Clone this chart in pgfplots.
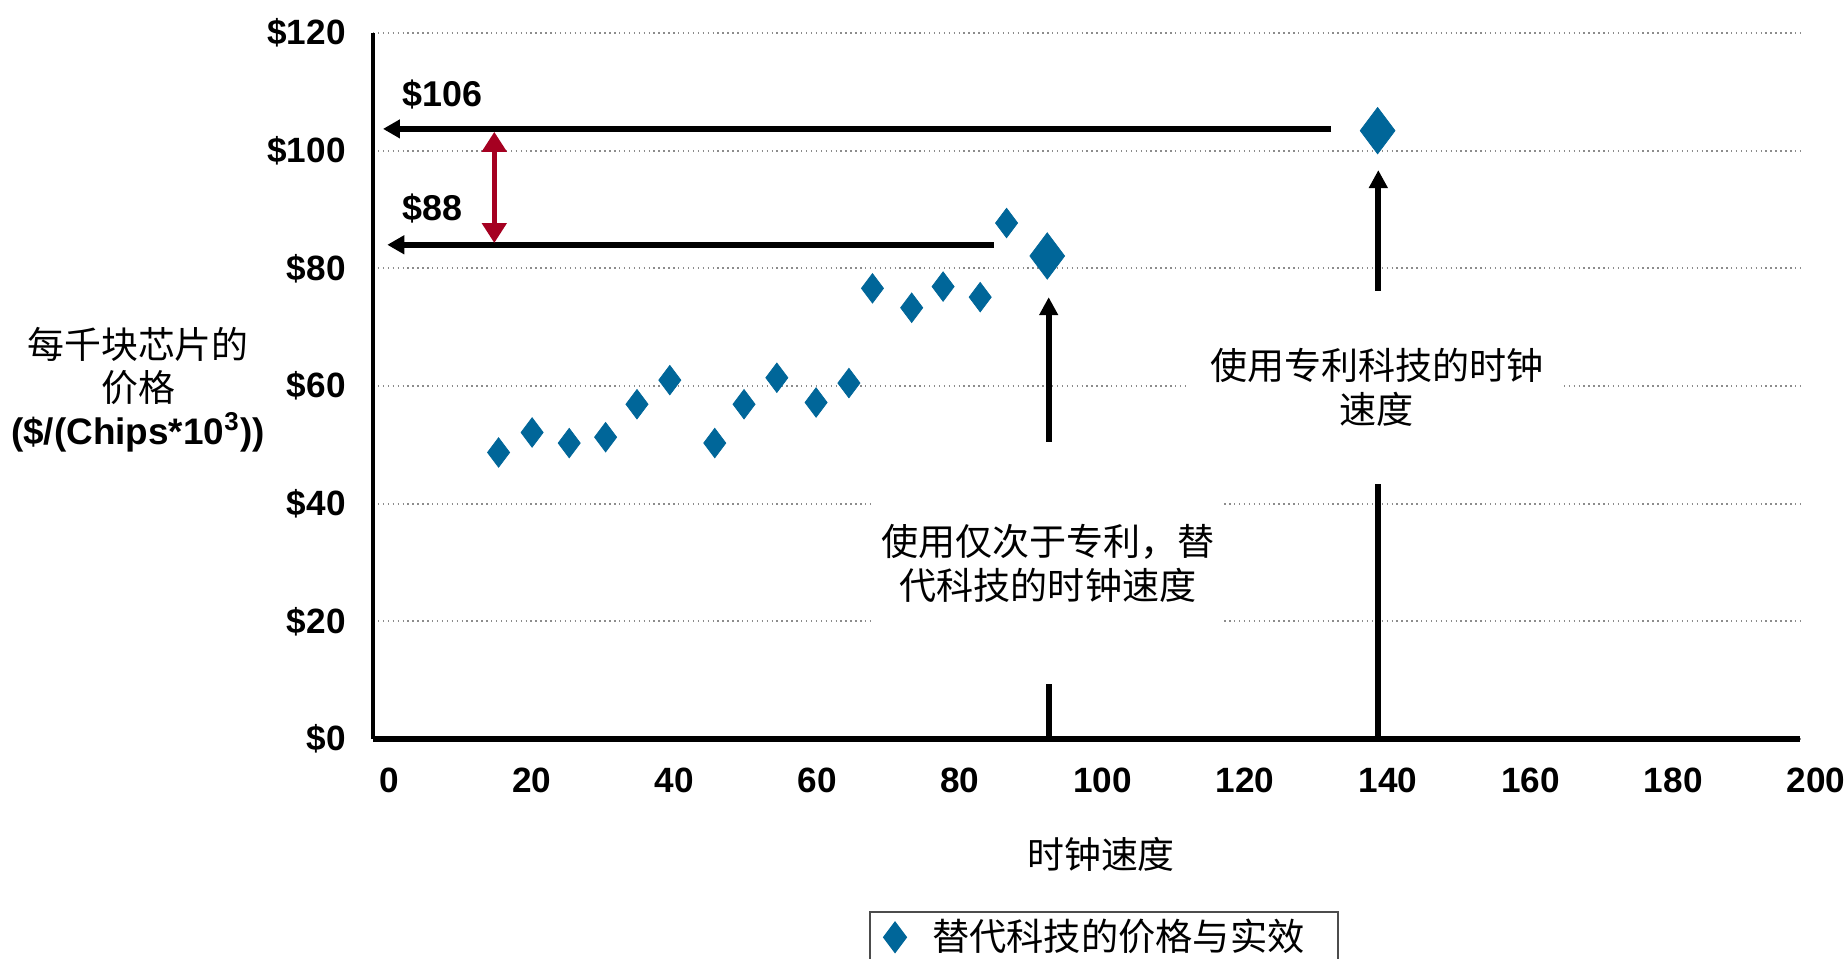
\documentclass[border=0pt]{standalone}
\usepackage{pgfplots}
\pgfplotsset{compat=1.18}
\usepackage{pgfplotstable}
\usepackage{fontspec}
\setmainfont{Liberation Sans}
\newfontfamily\cjk{Noto Sans CJK SC}
\usetikzlibrary{arrows.meta}
\definecolor{mblue}{RGB}{0,102,153}
\definecolor{mred}{RGB}{165,0,33}
\pgfplotstableread{
x y
17.6 48.7
22.3 52.1
27.5 50.3
32.6 51.3
37.0 56.9
41.6 61.0
47.9 50.3
52.0 56.9
56.6 61.4
62.1 57.2
66.7 60.5
70.0 76.6
75.5 73.3
79.9 76.9
85.1 75.1
88.8 87.7
}\alttable
\pgfplotstableread{
x y
94.5 82.1
140.8 103.4
}\proptable
\begin{document}
\begin{tikzpicture}
\path[use as bounding box] (0,0) rectangle (18.47,9.58);
\begin{axis}[
  at={(3.73cm,2.19cm)}, anchor=south west,
  scale only axis, width=14.27cm, height=7.06cm,
  xmin=0, xmax=200, ymin=0, ymax=120,
  axis x line*=bottom, axis y line*=left,
  x axis line style={line width=1.5pt,-},
  y axis line style={line width=1.3pt,-},
  xtick={0,20,...,200}, ytick={0,20,...,120},
  yticklabels={\$0,\$20,\$40,\$60,\$80,\$100,\$120},
  xticklabels={0,20,40,60,80,100,120,140,160,180,200},
  major tick length=0pt,
  tick label style={font=\fontsize{10}{12}\selectfont\bfseries},
  xticklabel style={yshift=-0.17cm, xshift=0.16cm},
  yticklabel style={xshift=-0.15cm},
  ymajorgrids, major grid style={densely dotted, black!45, line width=0.5pt},
  clip=false,
  legend style={at={(0.3476,-0.2436)}, anchor=north west, draw=black!70, line width=0.5pt,
    font=\cjk\fontsize{10.6}{12}\selectfont, inner xsep=4pt, inner ysep=0pt,
    nodes={inner sep=2pt},
    /tikz/every odd column/.append style={column sep=0.19cm}},
  legend cell align=left,
  legend image code/.code={\draw[mark=diamond*, mark size=4.2pt, mblue, mark options={draw=mblue, fill=mblue}] plot coordinates {(0.15cm,0cm)};},
]
\addplot[only marks, mark=diamond*, mark size=4.2pt, mblue, mark options={draw=mblue, fill=mblue, line width=0.2pt}] table[x=x,y=y]{\alttable};
\addlegendentry{替代科技的价格与实效\kern0.12cm}
\addplot[only marks, mark=diamond*, mark size=6.6pt, mblue, mark options={draw=mblue, fill=mblue, line width=0.2pt}, forget plot] table[x=x,y=y]{\proptable};

\draw[line width=1.7pt, -{Triangle[length=1.7mm,width=1.8mm]}] (axis cs:134.3,103.7) -- (axis cs:1.4,103.7);
\draw[line width=1.7pt, -{Triangle[length=1.7mm,width=1.8mm]}] (axis cs:87.0,84.0) -- (axis cs:2.0,84.0);
\draw[mred, line width=1.4pt, {Triangle[length=2mm,width=2.4mm]}-{Triangle[length=2mm,width=2.4mm]}] (axis cs:17.0,103.2) -- (axis cs:17.0,84.3);
\node[anchor=west, inner sep=0pt, font=\fontsize{10.2}{12}\selectfont\bfseries] at (axis cs:4.1,109.6) {\$106};
\node[anchor=west, inner sep=0pt, font=\fontsize{10.2}{12}\selectfont\bfseries] at (axis cs:4.1,90.1) {\$88};

\draw[line width=1.7pt, -{Triangle[length=1.8mm,width=1.8mm]}] (axis cs:94.7,0) -- (axis cs:94.7,75.1);
\node[fill=white, minimum width=3.5cm, minimum height=2.42cm, inner sep=0pt, align=center, font=\cjk\fontsize{10.55}{12.6}\selectfont] at (axis cs:94.6,29.9) {使用仅次于专利，替\\代科技的时钟速度};
\draw[line width=1.7pt, -{Triangle[length=1.8mm,width=1.8mm]}] (axis cs:140.9,0) -- (axis cs:140.9,96.7);
\node[fill=white, minimum width=3.74cm, minimum height=1.93cm, inner sep=0pt, align=center, font=\cjk\fontsize{10.55}{12.6}\selectfont] at (axis cs:140.7,59.8) {使用专利科技的时钟\\速度};
\end{axis}
\node[align=center, font=\fontsize{10.5}{12.2}\selectfont] at (1.38,5.68) {{\cjk 每千块芯片的}\\{\cjk 价格}\\{\bfseries (\$/(Chips*10\textsuperscript{3}))}};
\node[font=\cjk\fontsize{10.5}{12}\selectfont] at (11.01,1.04) {时钟速度};
\end{tikzpicture}
\end{document}
